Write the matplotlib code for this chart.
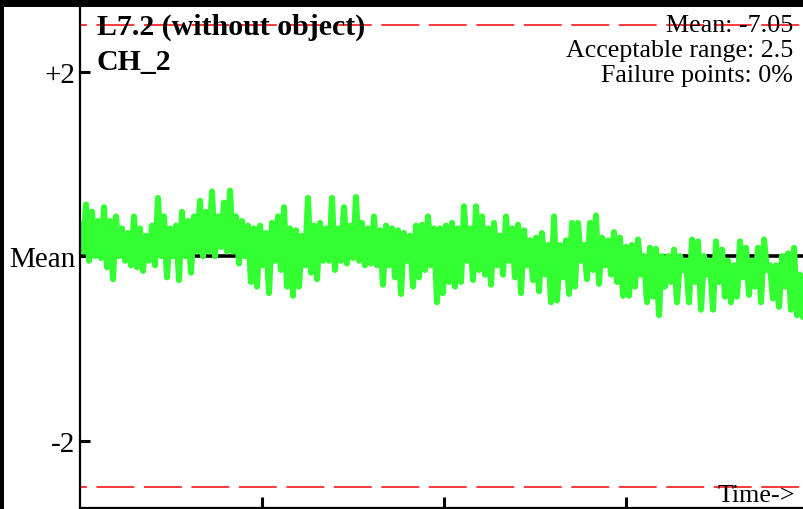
import numpy as np
import matplotlib

matplotlib.use("Agg")

import matplotlib.pyplot as plt
from matplotlib.patches import Rectangle

# -----------------------------
# Data: the trace swings between a peak and a trough in every column
# (deviation from mean, every 6 px)
# -----------------------------
peaks = [0.35, 0.56, 0.48, 0.38, 0.53, 0.38, 0.43, 0.3, 0.25, 0.43,
         0.3, 0.22, 0.33, 0.63, 0.43, 0.3, 0.33, 0.48, 0.38, 0.43,
         0.6, 0.48, 0.7, 0.43, 0.58, 0.71, 0.43, 0.38, 0.33, 0.3,
         0.33, 0.25, 0.36, 0.43, 0.53, 0.3, 0.28, 0.22, 0.63, 0.33,
         0.36, 0.3, 0.63, 0.3, 0.53, 0.33, 0.64, 0.36, 0.3, 0.43,
         0.28, 0.33, 0.3, 0.28, 0.25, 0.22, 0.33, 0.34, 0.43, 0.3,
         0.3, 0.33, 0.36, 0.3, 0.54, 0.3, 0.54, 0.43, 0.3, 0.36,
         0.22, 0.43, 0.3, 0.34, 0.28, 0.17, 0.2, 0.25, 0.12, 0.43,
         0.12, 0.17, 0.36, 0.36, 0.12, 0.36, 0.44, 0.2, 0.17, 0.26,
         0.2, 0.1, 0.12, 0.18, 0.0, 0.09, 0.08, 0.0, 0.0, 0.07,
         0.0, -0.05, 0.18, 0.16, 0.0, -0.05, 0.16, 0.07, -0.05, -0.1,
         0.16, 0.09, -0.05, 0.09, 0.18, -0.1, -0.1, 0.0, 0.03, 0.09,
         -0.2]
troughs = [0.05, -0.05, 0.0, -0.02, -0.12, -0.25, 0.0, -0.05, -0.1, -0.12,
           -0.16, -0.05, -0.1, 0.0, -0.23, 0.0, -0.26, 0.0, -0.18, 0.05,
           0.0, 0.05, 0.0, 0.1, 0.05, 0.05, -0.08, 0.0, -0.28, -0.33,
           -0.1, -0.4, -0.05, -0.15, -0.33, -0.43, -0.33, -0.1, -0.18, -0.25,
           -0.05, -0.05, -0.15, -0.05, -0.08, -0.02, -0.05, -0.1, -0.08, -0.1,
           -0.31, -0.1, -0.23, -0.41, -0.05, -0.33, -0.23, -0.15, -0.1, -0.5,
           -0.4, -0.28, -0.33, -0.28, -0.05, -0.26, -0.15, -0.2, -0.31, -0.1,
           -0.2, -0.05, -0.23, -0.4, -0.1, -0.26, -0.38, -0.2, -0.5, -0.48,
           -0.23, -0.41, -0.33, -0.05, -0.25, -0.15, -0.3, -0.1, -0.2, -0.28,
           -0.43, -0.43, -0.33, -0.2, -0.5, -0.44, -0.64, -0.33, -0.28, -0.5,
           -0.15, -0.5, -0.28, -0.58, -0.2, -0.58, -0.28, -0.44, -0.5, -0.44,
           -0.23, -0.42, -0.33, -0.5, -0.15, -0.46, -0.55, -0.33, -0.58, -0.64,
           -0.66]

values = []
for p, q in zip(peaks, troughs):
    values += [p, q]

mean_value = -7.05
acceptable_range = 2.5
failure_pct = 0
title_text = "L7.2 (without object)"
channel = "CH_2"
ytick_vals = [2, 0, -2]
ytick_labels = ["+2", "Mean", "-2"]
xtick_vals = [1, 2, 3]

# time axis: samples evenly spaced
dt = 3 / 182
t = np.arange(len(values)) * dt

W, H = 804, 510
fig = plt.figure(figsize=(W / 100, H / 100), dpi=100)
fig.patch.set_facecolor("black")
# white page inside the black frame (left and top)
fig.patches.append(Rectangle((4 / W, 0), 1, 1 - 8 / H, transform=fig.transFigure,
                             facecolor="white", edgecolor="none", zorder=-1))

ax = fig.add_axes([80 / W, 1 / H, 724 / W, (509 - 8) / H])
ax.set_facecolor("white")

ax.axhline(0, color="black", lw=2.6, zorder=1)
for y in (acceptable_range, -acceptable_range):
    ax.axhline(y, color="#ff2a2a", lw=1.3, linestyle=(17.2, (21.0, 5.3)), zorder=1)

ax.plot(t, values, color="#33ff33", lw=4.4, solid_capstyle="round",
        solid_joinstyle="round", zorder=2)

ax.set_xlim(0, 724 / 182)
ax.set_ylim(-2.73, 2.70)

ax.set_yticks(ytick_vals)
ax.set_yticklabels(ytick_labels)
ax.set_xticks(xtick_vals)
ax.set_xticklabels([])
ax.tick_params(axis="y", direction="in", length=7.5, width=2.2, pad=3.5,
               labelsize=21, labelfontfamily="Liberation Serif")
ax.tick_params(axis="x", direction="in", length=8, width=2.2)

for side in ("top", "right"):
    ax.spines[side].set_visible(False)
ax.spines["left"].set_linewidth(1.6)
ax.spines["bottom"].set_linewidth(1.6)

serif = "Liberation Serif"
fig.text(97 / W, 1 - 35 / H, title_text, fontsize=21.5, fontweight="bold",
         family=serif, ha="left", va="baseline")
fig.text(97 / W, 1 - 70 / H, channel, fontsize=21.5, fontweight="bold",
         family=serif, ha="left", va="baseline")

fig.text(793 / W, 1 - 32 / H, f"Mean: {mean_value:.2f}", fontsize=18.7,
         family=serif, ha="right", va="baseline")
fig.text(793 / W, 1 - 57 / H, f"Acceptable range: {acceptable_range}", fontsize=18.7,
         family=serif, ha="right", va="baseline")
fig.text(793 / W, 1 - 82 / H, f"Failure points: {failure_pct}%", fontsize=18.7,
         family=serif, ha="right", va="baseline")
fig.text(795 / W, 1 - 502 / H, "Time->", fontsize=18.7,
         family=serif, ha="right", va="baseline")

fig.savefig("out.png", dpi=100, facecolor=fig.get_facecolor())
